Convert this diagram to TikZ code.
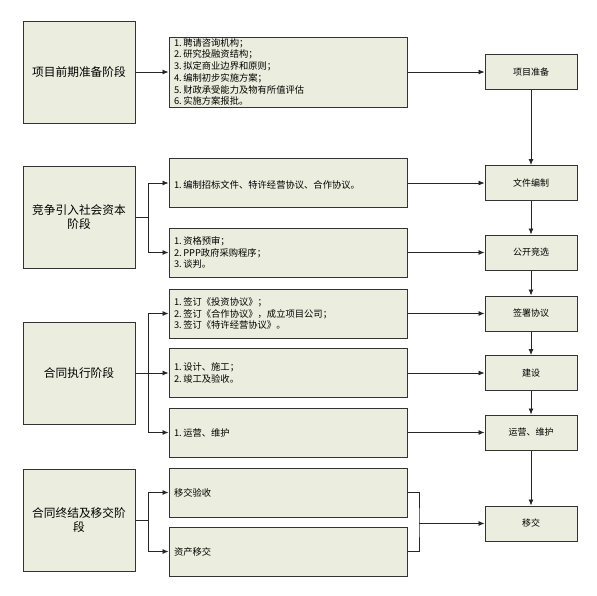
\documentclass[tikz,border=0pt]{standalone}
\usepackage{fontspec}
\setmainfont{Noto Sans CJK SC}
\usetikzlibrary{arrows.meta}
\definecolor{boxfill}{RGB}{235,238,222}
\begin{document}
\begin{tikzpicture}[x=1pt,y=-1pt,>={Latex[length=6pt,width=5pt]},
    box/.style={draw=black!80,line width=1pt,fill=boxfill},
    stage/.style={box,inner sep=0pt,minimum width=112pt,minimum height=102pt,align=center,font=\fontsize{11.7}{14}\selectfont},
    task/.style={box,inner xsep=5pt,inner ysep=0pt,text width=228pt,align=left,font=\fontsize{9.3}{11.7}\selectfont},
    result/.style={box,inner sep=0pt,minimum width=92pt,minimum height=35pt,font=\fontsize{9}{11}\selectfont},
    link/.style={draw=black!85,line width=0.8pt}]
    \useasboundingbox (0,0) rectangle (597,595);
    % stages
    \node[stage] (s1) at (79,72) {项目前期准备阶段};
    \node[stage] (s2) at (79,217) {竞争引入社会资本\\阶段};
    \node[stage] (s3) at (79,373) {合同执行阶段};
    \node[stage] (s4) at (79,520.5) {合同终结及移交阶\\段};
    % tasks
    \node[task,minimum height=70pt] (l1) at (288,72) {1.\,聘请咨询机构；\\2.\,研究投融资结构；\\3.\,拟定商业边界和原则；\\4.\,编制初步实施方案；\\5.\,财政承受能力及物有所值评估\\6.\,实施方案报批。};
    \node[task,minimum height=49pt] (l2) at (288,183) {\mbox{}\\1.\,编制招标文件、特许经营协议、合作协议。};
    \node[task,minimum height=49pt] (l3) at (288,252.5) {1.\,资格预审；\\2.\,PPP政府采购程序；\\3.\,谈判。};
    \node[task,minimum height=49pt] (l4) at (288,313.5) {1.\,签订《投资协议》；\\2.\,签订《合作协议》，成立项目公司；\\3.\,签订《特许经营协议》。};
    \node[task,minimum height=49pt] (l5) at (288,373) {1.\,设计、施工；\\2.\,竣工及验收。};
    \node[task,minimum height=49pt] (l6) at (288,432.5) {1.\,运营、维护};
    \node[task,minimum height=49pt] (l7) at (288,492.5) {移交验收};
    \node[task,minimum height=49pt] (l8) at (288,551.5) {资产移交};
    % results
    \node[result] (r1) at (531,72) {项目准备};
    \node[result] (r2) at (531,183) {文件编制};
    \node[result] (r3) at (531,252.5) {公开竞选};
    \node[result] (r4) at (531,313.5) {签署协议};
    \node[result] (r5) at (531,373) {建设};
    \node[result] (r6) at (531,432.5) {运营、维护};
    \node[result] (r7) at (531,523.5) {移交};
    \coordinate (j) at (419,523.5);
    % connectors
    \draw[link,->] (s1) -- (l1);
    \draw[link,->] (s2.east) -- ++(13,0) |- (l2.west);
    \draw[link,->] (s2.east) -- ++(13,0) |- (l3.west);
    \draw[link,->] (s3.east) -- ++(13,0) |- (l4.west);
    \draw[link,->] (s3) -- (l5);
    \draw[link,->] (s3.east) -- ++(13,0) |- (l6.west);
    \draw[link,->] (s4.east) -- ++(13,0) |- (l7.west);
    \draw[link,->] (s4.east) -- ++(13,0) |- (l8.west);
    \foreach \a/\b in {l1/r1,l2/r2,l3/r3,l4/r4,l5/r5,l6/r6}
        \draw[link,->] (\a) -- (\b);
    \draw[link] (l7.east) -| (j) |- (l8.east);
    \draw[link,->] (j) -- (r7);
    \foreach \a/\b in {r1/r2,r2/r3,r3/r4,r4/r5,r5/r6,r6/r7}
        \draw[link,->] (\a) -- (\b);
\end{tikzpicture}
\end{document}
